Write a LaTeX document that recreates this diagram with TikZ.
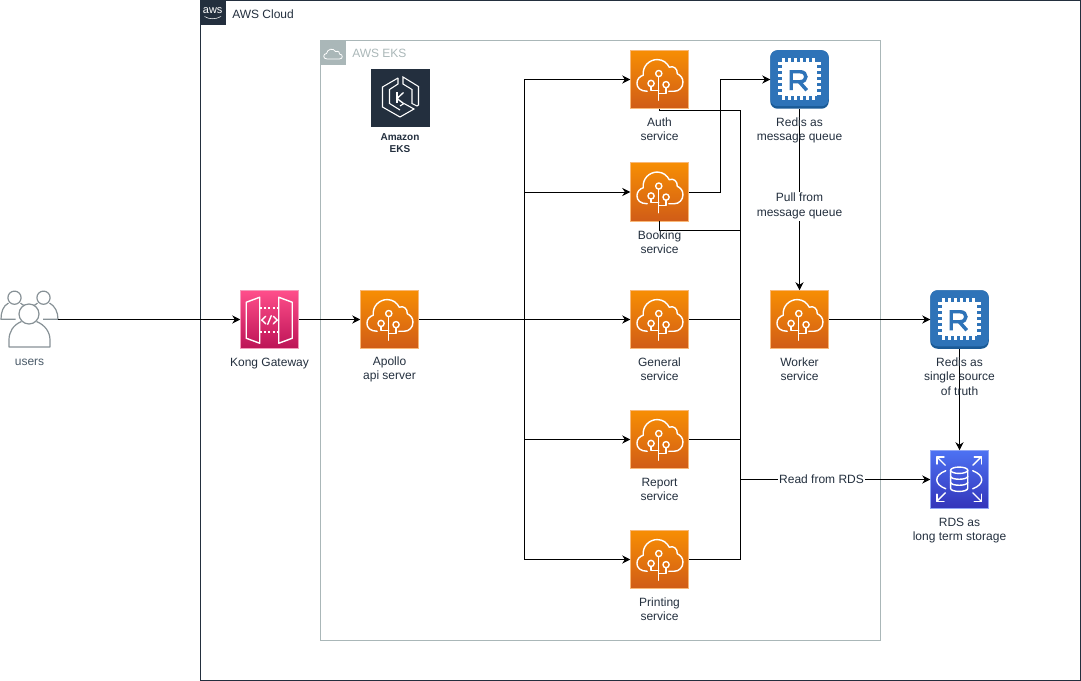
\documentclass[tikz,border=0pt]{standalone}
\usepackage{fontspec}
\setmainfont{Liberation Sans}
\usetikzlibrary{arrows.meta}
\definecolor{ink}{HTML}{232F3E}
\definecolor{groupgrey}{HTML}{AAB7B8}
\definecolor{usergrey}{HTML}{879196}
\definecolor{usertext}{HTML}{4A5A68}
\tikzset{
  iconbase/.style={minimum size=43.875pt,inner sep=0pt,outer sep=0pt,shape=rectangle},
  computeicon/.style={iconbase,top color=orange1,bottom color=orange2,draw=orangeedge,line width=.5pt},
  kongicon/.style={iconbase,top color=pink1,bottom color=pink2,draw=pinkedge,line width=.5pt},
  rdsicon/.style={iconbase,top color=blue1,bottom color=blue2,draw=blueedge,line width=.5pt},
  redisicon/.style={iconbase,fill=redisdark,rounded corners=5.5pt},
  lbl/.style={font=\fontsize{9}{10.5}\selectfont,text=ink,align=center,inner sep=0pt},
  edgelbl/.style={lbl,fill=white,inner xsep=1pt,inner ysep=1pt},
  conn/.style={line width=.75pt,draw=black},
  arr/.style={conn,-{Stealth[length=6pt,width=6pt]}},
  glyph/.style={draw=white,line width=1.05pt,line cap=round,line join=round},
  tree/.pic={
    \draw[glyph] (17,41) .. controls (10,41) and (6.7,37.5) .. (6.7,33)
      .. controls (6.7,29) and (9.5,26) .. (13,25)
      .. controls (12,15.5) and (19.5,9.3) .. (27,9.3)
      .. controls (33,9.3) and (37,13) .. (39,17)
      .. controls (43,15) and (47.5,18.5) .. (47,23.5)
      .. controls (50.5,25) and (52.7,28) .. (52.7,32)
      .. controls (52.7,37) and (49,41) .. (44,41) -- (38.5,41);
    \draw[glyph] (28.5,23.3) circle (3.1);
    \draw[glyph] (20.8,33.2) circle (3.1);
    \draw[glyph] (35.8,34.4) circle (3.1);
    \draw[glyph] (28.5,26.4) -- (28.5,50);
    \draw[glyph] (20.8,36.3) -- (20.8,40) -- (28.5,40);
    \draw[glyph] (35.8,37.5) -- (35.8,43) -- (28.5,43);
  },
  chip/.pic={
    \fill[redisblue,rounded corners=5.5pt] (0,0) rectangle (58.5,56);
    \foreach \p in {13.5,19.5,25.5,31.5,37.5,43.5}{
      \fill[white] (\p-1.3,8) rectangle (\p+1.3,49.5);
      \fill[white] (8,\p-1.3) rectangle (50.5,\p+1.3);
    }
    \fill[white] (11.5,11.5) rectangle (47,46);
    \draw[redisblue,line width=2.6pt,line join=miter] (21,40) -- (21,21.5) -- (30,21.5)
      .. controls (37.5,21.5) and (37.5,31.5) .. (30,31.5) -- (21,31.5);
    \draw[redisblue,line width=2.6pt] (29,31.5) -- (36.5,40);
  },
  konggl/.pic={
    \draw[glyph] (6,12) -- (19.5,7) -- (19.5,53) -- (6,48) -- cycle;
    \draw[glyph] (38.5,7) -- (52,12) -- (52,48) -- (38.5,53) -- cycle;
    \draw[glyph,dash pattern=on 1.6pt off 1.6pt,line cap=butt] (19.5,17.7) -- (38.5,17.7);
    \draw[glyph,dash pattern=on 1.6pt off 1.6pt,line cap=butt] (19.5,41.7) -- (38.5,41.7);
    \draw[glyph] (25.5,26) -- (21.5,29.8) -- (25.5,33.6);
    \draw[glyph] (33,26) -- (37,29.8) -- (33,33.6);
    \draw[glyph] (31,25.5) -- (27.5,34);
  },
  rdsgl/.pic={
    \foreach \sx/\sy/\ex/\ey in {6.7/6.7/15/15,51/6.7/42.7/15,6.7/51/15/42.7,51/51/42.7/42.7}{
      \draw[glyph] (\sx,\sy) -- (\ex,\ey);
      \draw[glyph] (\sx,\sy) -- (\sx,{\sy+(\ey-\sy)*.85});
      \draw[glyph] (\sx,\sy) -- ({\sx+(\ex-\sx)*.85},\sy);
    }
    \draw[glyph] (20.3,20) arc[start angle=180,end angle=-180,x radius=8.6,y radius=3.2];
    \draw[glyph] (20.3,20) -- (20.3,38) .. controls (20.3,42.2) and (37.5,42.2) .. (37.5,38) -- (37.5,20);
    \draw[glyph] (20.3,26) .. controls (20.3,30) and (37.5,30) .. (37.5,26);
    \draw[glyph] (20.3,32) .. controls (20.3,36) and (37.5,36) .. (37.5,32);
    \draw[glyph] (15.5,20.5) .. controls (3.5,25) and (3.5,34) .. (15.5,38.5);
    \draw[glyph] (42.5,20.5) .. controls (54.5,25) and (54.5,34) .. (42.5,38.5);
  }
}
\definecolor{orange1}{HTML}{F78E04}
\definecolor{orange2}{HTML}{D05C17}
\definecolor{orangeedge}{HTML}{F9B877}
\definecolor{pink1}{HTML}{FF4F8B}
\definecolor{pink2}{HTML}{BC1356}
\definecolor{pinkedge}{HTML}{F59ABB}
\definecolor{blue1}{HTML}{4D72F3}
\definecolor{blue2}{HTML}{3334B9}
\definecolor{blueedge}{HTML}{8FA5F5}
\definecolor{redisblue}{HTML}{2E73B8}
\definecolor{redisdark}{HTML}{1A5A96}
\begin{document}
\begin{tikzpicture}[x=.75pt,y=-.75pt]
\useasboundingbox (0,0) rectangle (1081,681);
% groups
\draw[ink,line width=.75pt] (200.5,.5) rectangle (1080.5,680.5);
\fill[ink] (200,0) rectangle (225.5,25.5);
\node[font=\fontsize{8.2}{9}\selectfont,text=white,inner sep=0pt] (awslogo) at (212.7,10.5) {aws};
\draw[white,line width=.4pt] (204.5,16.5) .. controls (209,19.5) and (216,19.5) .. (221,16.5);
\node[lbl,anchor=west] (cloudtitle) at (232,14) {AWS Cloud};
\draw[groupgrey,line width=.75pt] (320.5,40.5) rectangle (880.5,640.5);
\fill[groupgrey] (320,40) rectangle (345.5,65.5);
\draw[white,line width=.6pt,line join=round] (327,59) .. controls (322.5,59) and (323,53.5) .. (326.5,53.5)
  .. controls (327,49) and (333.5,47.5) .. (335.5,51.5)
  .. controls (339,50.5) and (340,53) .. (339.5,54)
  .. controls (343.5,54.5) and (343,59) .. (339.5,59) -- cycle;
\node[lbl,anchor=west,text=groupgrey] (ekstitle) at (352,53.5) {AWS EKS};
% EKS icon
\node[iconbase,minimum size=44pt,fill=ink] (eks) at (400.3,98) {};
\begin{scope}[shift={(371,69)}]
  \draw[glyph,line width=.8pt,line cap=butt,line join=miter] (27,9) -- (11.5,18) -- (11.5,38) -- (29,48) -- (43,40) -- (33,34.5) -- (29,37);
  \draw[glyph,line width=.8pt,line cap=butt,line join=miter] (32,8) -- (32,15) -- (41,20.5) -- (41,34.5) -- (46,37) -- (47.5,36) -- (47.5,17.5) -- cycle;
  \draw[glyph,line width=.8pt,line cap=butt,line join=miter] (27,9) -- (27,15) -- (18.5,20.5) -- (18.5,34.5) -- (29,41);
  \draw[glyph,line width=1pt,line cap=butt,line join=miter] (26,23.5) -- (26,34.5);
  \draw[glyph,line width=1pt,line cap=butt,line join=miter] (32.5,23.5) -- (26,29.5) -- (32.5,34.5);
\end{scope}
\node[lbl,font=\fontsize{7.5}{9}\selectfont\bfseries] (ekslabel) at (400,143.5) {Amazon\\EKS};
% icons
\node[computeicon] (apollo) at (389.5,319.5) {};
\node[computeicon] (auth) at (659.5,79.5) {};
\node[computeicon] (booking) at (659.5,192) {};
\node[computeicon] (general) at (659.5,319.5) {};
\node[computeicon] (report) at (659.5,439.5) {};
\node[computeicon] (printing) at (659.5,559.5) {};
\node[computeicon] (worker) at (799.5,319.5) {};
\node[kongicon] (kong) at (269.5,319.5) {};
\node[rdsicon] (rds) at (959.5,479.5) {};
\node[redisicon] (redismq) at (799.5,79.5) {};
\node[redisicon] (redistruth) at (959.5,319.5) {};
\node[iconbase] (users) at (29,319.5) {};
\foreach \n/\xx/\yy in {apollo/360.25/290.25,auth/630.25/50.25,booking/630.25/162.75,general/630.25/290.25,report/630.25/410.25,printing/630.25/530.25,worker/770.25/290.25}{
  \pic at (\xx,\yy) {tree};
}
\pic at (240.25,290.25) {konggl};
\pic at (930.25,450.25) {rdsgl};
\pic at (770.25,50.25) {chip};
\pic at (930.25,290.25) {chip};
% users glyph
\begin{scope}[draw=usergrey,line width=.9pt,line join=round]
  \draw (14.5,297.7) circle (6.6);
  \draw (43.5,297.7) circle (6.6);
  \draw (8.5,303) .. controls (3,306) and (1,312) .. (1,319.3) -- (15.5,319.3);
  \draw (20.5,303) .. controls (21.5,304) and (23,305) .. (24,305.5);
  \draw (49.5,303) .. controls (55,306) and (58,312) .. (58,319.3) -- (43,319.3);
  \draw (37.5,303) .. controls (36.5,304) and (35,305) .. (34,305.5);
  \fill[white,draw=usergrey] (29,314) circle (10);
  \draw (21.5,321.5) .. controls (13,325) and (9,332) .. (9,340) -- (9,347) -- (50,347) -- (50,340)
    .. controls (50,332) and (45,325) .. (36.5,321.5);
\end{scope}
% connectors
\coordinate (split) at (524.5,319.5);
\coordinate (bus) at (740.5,479.5);
\coordinate (authturn) at (740.5,110.5);
\coordinate (bookturn) at (740.5,230.5);
\coordinate (bookelbow) at (720.5,192);
\coordinate (mqelbow) at (720.5,79.5);
\draw[arr] (users.east) -- (kong.west);
\draw[arr] (kong.east) -- (apollo.west);
\draw[arr] (apollo.east) -- (general.west);
\draw[arr] (split) |- (auth.west);
\draw[arr] (split) |- (booking.west);
\draw[arr] (split) |- (report.west);
\draw[arr] (split) |- (printing.west);
\draw[conn] (auth.south) |- (authturn) -- (bus);
\draw[conn] (booking.south) |- (bookturn) -- (bus);
\draw[conn] (general.east) -- (general.east -| bus);
\draw[conn] (report.east) -- (report.east -| bus);
\draw[conn] (printing.east) -| (bus);
\draw[arr] (booking.east) -- (bookelbow) -- (mqelbow) -- (redismq.west);
\draw[arr] (redismq.south) -- node[edgelbl,pos=.537,font=\fontsize{9}{11.2}\selectfont] (pull) {Pull from\\message queue} (worker.north);
\draw[arr] (bus) -- node[edgelbl,pos=.427] (readrds) {Read from RDS} (rds.west);
\draw[arr] (worker.east) -- (redistruth.west);
\draw[arr] (redistruth.south) -- (rds.north);
% labels
\node[lbl,text=usertext] (userslabel) at (29.5,362.7) {users};
\node[lbl] (konglabel) at (269.5,363.2) {Kong Gateway};
\node[lbl] (apollolabel) at (389.5,369.8) {Apollo\\api server};
\node[lbl] (authlabel) at (659.5,129) {Auth\\service};
\node[lbl] (bookinglabel) at (659.5,242) {Booking\\service};
\node[lbl] (generallabel) at (659.5,369) {General\\service};
\node[lbl] (reportlabel) at (659.5,489) {Report\\service};
\node[lbl] (printinglabel) at (659.5,609) {Printing\\service};
\node[lbl] (workerlabel) at (799.5,369) {Worker\\service};
\node[lbl] (mqlabel) at (799.5,130) {Redis as\\message queue};
\node[lbl,font=\fontsize{9}{10.8}\selectfont] (truthlabel) at (959.5,376.5) {Redis as\\single source\\of truth};
\node[lbl] (rdslabel) at (959.5,530.3) {RDS as\\long term storage};
\end{tikzpicture}
\end{document}
